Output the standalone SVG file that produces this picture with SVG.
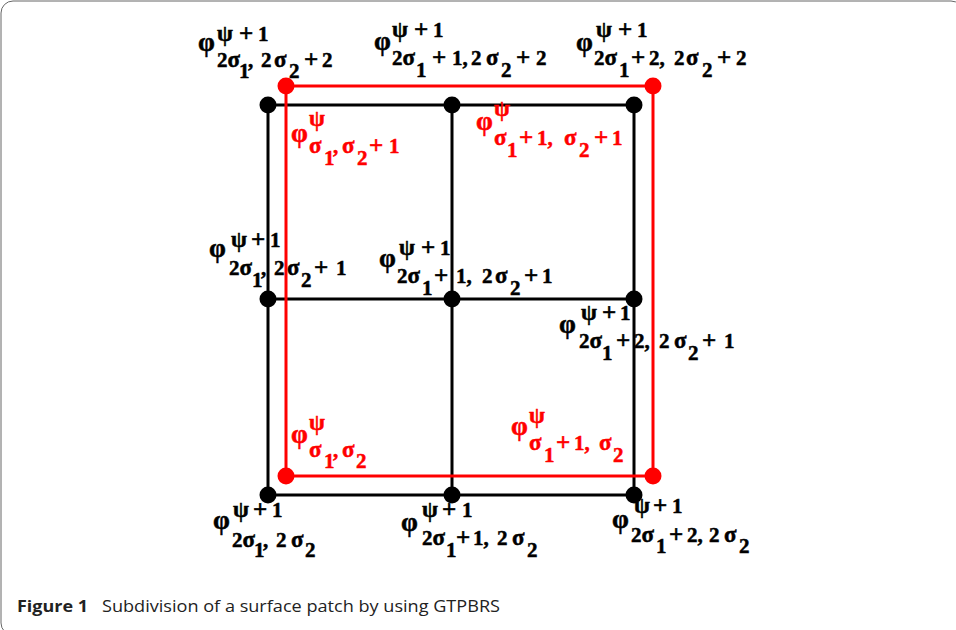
<svg xmlns="http://www.w3.org/2000/svg" width="956" height="630" viewBox="0 0 956 630">
<style>
.k{font-family:"Liberation Serif","Times New Roman",serif;font-weight:bold;font-size:21px;fill:#000;stroke:#000;stroke-width:0.5}
.r{fill:#ff0000;stroke:#ff0000}
.p{font-size:27px}
.g{font-size:23px}
.s{font-size:25px}
.blk{stroke:#000;stroke-width:3;fill:none}
.red{stroke:#ff0000;stroke-width:3;fill:none}
.cap{font-family:"Open Sans","Noto Sans",sans-serif;font-size:16px;fill:#222}
</style>
<rect x="1" y="1" width="962" height="634" rx="12" fill="#fff" stroke="#666" stroke-width="1"/>
<g id="connectors">
<path class="blk" d="M268 105H634M268 299H634M268 495H634M268 105V495M452 105V495M634 105V495"/>
<rect class="red" x="286" y="86" width="367" height="390"/>
</g>
<g id="black-nodes" fill="#000">
<circle cx="268" cy="105" r="8.5"/><circle cx="452" cy="105" r="8.5"/><circle cx="634" cy="105" r="8.5"/>
<circle cx="268" cy="299" r="8.5"/><circle cx="452" cy="299" r="8.5"/><circle cx="634" cy="299" r="8.5"/>
<circle cx="268" cy="495" r="8.5"/><circle cx="452" cy="495" r="8.5"/><circle cx="634" cy="495" r="8.5"/>
</g>
<g id="red-nodes" fill="#ff0000">
<circle cx="286" cy="86" r="8.5"/><circle cx="653" cy="86" r="8.5"/><circle cx="286" cy="476" r="8.5"/><circle cx="653" cy="476" r="8.5"/>
</g>
<g id="label-tl"><text class="k"><tspan class="p" x="198" y="51">φ</tspan><tspan class="g" x="217" y="41">ψ</tspan><tspan class="s" x="239" y="42">+</tspan><tspan x="258" y="41">1</tspan><tspan x="217" y="67">2<tspan class="g">σ</tspan></tspan><tspan x="239" y="78">1</tspan><tspan x="248" y="67">,</tspan><tspan x="261" y="67">2</tspan><tspan class="g" x="274" y="67">σ</tspan><tspan x="289" y="78">2</tspan><tspan class="s" x="304" y="68">+</tspan><tspan x="322" y="67">2</tspan></text></g>
<g id="label-tm"><text class="k"><tspan class="p" x="374" y="50">φ</tspan><tspan class="g" x="392" y="37">ψ</tspan><tspan class="s" x="414" y="38">+</tspan><tspan x="433" y="37">1</tspan><tspan x="392" y="65">2<tspan class="g">σ</tspan></tspan><tspan x="416" y="77">1</tspan><tspan class="s" x="432" y="66">+</tspan><tspan x="452" y="65">1,</tspan><tspan x="471" y="65">2</tspan><tspan class="g" x="486" y="65">σ</tspan><tspan x="501" y="77">2</tspan><tspan class="s" x="516" y="66">+</tspan><tspan x="536" y="65">2</tspan></text></g>
<g id="label-tr"><text class="k"><tspan class="p" x="576" y="51">φ</tspan><tspan class="g" x="596" y="37">ψ</tspan><tspan class="s" x="618" y="38">+</tspan><tspan x="637" y="37">1</tspan><tspan x="594" y="65">2<tspan class="g">σ</tspan></tspan><tspan x="619" y="77">1</tspan><tspan class="s" x="631" y="66">+</tspan><tspan x="649" y="65">2,</tspan><tspan x="674" y="65">2</tspan><tspan class="g" x="686" y="65">σ</tspan><tspan x="702" y="77">2</tspan><tspan class="s" x="717" y="66">+</tspan><tspan x="736" y="65">2</tspan></text></g>
<g id="label-ml"><text class="k"><tspan class="p" x="209" y="257">φ</tspan><tspan class="g" x="231" y="247">ψ</tspan><tspan class="s" x="251" y="248">+</tspan><tspan x="270" y="247">1</tspan><tspan x="229" y="275">2<tspan class="g">σ</tspan></tspan><tspan x="252" y="287">1</tspan><tspan x="261" y="275">,</tspan><tspan x="274" y="275">2</tspan><tspan class="g" x="287" y="275">σ</tspan><tspan x="301" y="287">2</tspan><tspan class="s" x="314" y="276">+</tspan><tspan x="336" y="275">1</tspan></text></g>
<g id="label-mc"><text class="k"><tspan class="p" x="379" y="267">φ</tspan><tspan class="g" x="399" y="255">ψ</tspan><tspan class="s" x="421" y="256">+</tspan><tspan x="440" y="255">1</tspan><tspan x="397" y="283">2<tspan class="g">σ</tspan></tspan><tspan x="422" y="295">1</tspan><tspan class="s" x="434" y="284">+</tspan><tspan x="456" y="283">1,</tspan><tspan x="482" y="283">2</tspan><tspan class="g" x="495" y="283">σ</tspan><tspan x="510" y="295">2</tspan><tspan class="s" x="524" y="284">+</tspan><tspan x="542" y="283">1</tspan></text></g>
<g id="label-mr"><text class="k"><tspan class="p" x="559" y="333">φ</tspan><tspan class="g" x="581" y="320">ψ</tspan><tspan class="s" x="602" y="321">+</tspan><tspan x="620" y="320">1</tspan><tspan x="579" y="348">2<tspan class="g">σ</tspan></tspan><tspan x="602" y="360">1</tspan><tspan class="s" x="616" y="349">+</tspan><tspan x="634" y="348">2,</tspan><tspan x="659" y="348">2</tspan><tspan class="g" x="674" y="348">σ</tspan><tspan x="688" y="360">2</tspan><tspan class="s" x="702" y="349">+</tspan><tspan x="724" y="348">1</tspan></text></g>
<g id="label-bl"><text class="k"><tspan class="p" x="213" y="529">φ</tspan><tspan class="g" x="233" y="517">ψ</tspan><tspan class="s" x="253" y="518">+</tspan><tspan x="272" y="517">1</tspan><tspan x="232" y="547">2<tspan class="g">σ</tspan></tspan><tspan x="254" y="557">1</tspan><tspan x="263" y="547">,</tspan><tspan x="276" y="547">2</tspan><tspan class="g" x="291" y="547">σ</tspan><tspan x="305" y="557">2</tspan></text></g>
<g id="label-bc"><text class="k"><tspan class="p" x="401" y="531">φ</tspan><tspan class="g" x="422" y="517">ψ</tspan><tspan class="s" x="442" y="518">+</tspan><tspan x="462" y="517">1</tspan><tspan x="422" y="545">2<tspan class="g">σ</tspan></tspan><tspan x="446" y="557">1</tspan><tspan class="s" x="456" y="546">+</tspan><tspan x="473" y="545">1,</tspan><tspan x="497" y="545">2</tspan><tspan class="g" x="512" y="545">σ</tspan><tspan x="527" y="557">2</tspan></text></g>
<g id="label-br"><text class="k"><tspan class="p" x="612" y="528">φ</tspan><tspan class="g" x="634" y="513">ψ</tspan><tspan class="s" x="653" y="514">+</tspan><tspan x="672" y="513">1</tspan><tspan x="631" y="542">2<tspan class="g">σ</tspan></tspan><tspan x="656" y="553">1</tspan><tspan class="s" x="669" y="543">+</tspan><tspan x="687" y="542">2,</tspan><tspan x="709" y="542">2</tspan><tspan class="g" x="724" y="542">σ</tspan><tspan x="739" y="553">2</tspan></text></g>
<g id="label-red-tl"><text class="k r"><tspan class="p" x="291" y="142">φ</tspan><tspan class="g" x="309" y="126">ψ</tspan><tspan class="g" x="309" y="153">σ</tspan><tspan x="324" y="165">1</tspan><tspan x="333" y="153">,</tspan><tspan class="g" x="342" y="153">σ</tspan><tspan x="357" y="165">2</tspan><tspan class="s" x="369" y="154">+</tspan><tspan x="389" y="153">1</tspan></text></g>
<g id="label-red-tr"><text class="k r"><tspan class="p" x="476" y="130">φ</tspan><tspan class="g" x="494" y="116">ψ</tspan><tspan class="g" x="494" y="145">σ</tspan><tspan x="507" y="157">1</tspan><tspan class="s" x="519" y="146">+</tspan><tspan x="537" y="145">1,</tspan><tspan class="g" x="564" y="145">σ</tspan><tspan x="579" y="157">2</tspan><tspan class="s" x="594" y="146">+</tspan><tspan x="612" y="145">1</tspan></text></g>
<g id="label-red-bl"><text class="k r"><tspan class="p" x="291" y="443">φ</tspan><tspan class="g" x="309" y="430">ψ</tspan><tspan class="g" x="309" y="457">σ</tspan><tspan x="324" y="468">1</tspan><tspan x="333" y="457">,</tspan><tspan class="g" x="342" y="457">σ</tspan><tspan x="356" y="468">2</tspan></text></g>
<g id="label-red-br"><text class="k r"><tspan class="p" x="511" y="435">φ</tspan><tspan class="g" x="529" y="423">ψ</tspan><tspan class="g" x="529" y="450">σ</tspan><tspan x="544" y="462">1</tspan><tspan class="s" x="556" y="451">+</tspan><tspan x="574" y="450">1,</tspan><tspan class="g" x="599" y="450">σ</tspan><tspan x="613" y="462">2</tspan></text></g>
<g id="caption"><text class="cap" y="612"><tspan x="17" font-weight="bold" textLength="71" lengthAdjust="spacingAndGlyphs">Figure 1</tspan><tspan x="102" textLength="398" lengthAdjust="spacingAndGlyphs">Subdivision of a surface patch by using GTPBRS</tspan></text></g>
</svg>
